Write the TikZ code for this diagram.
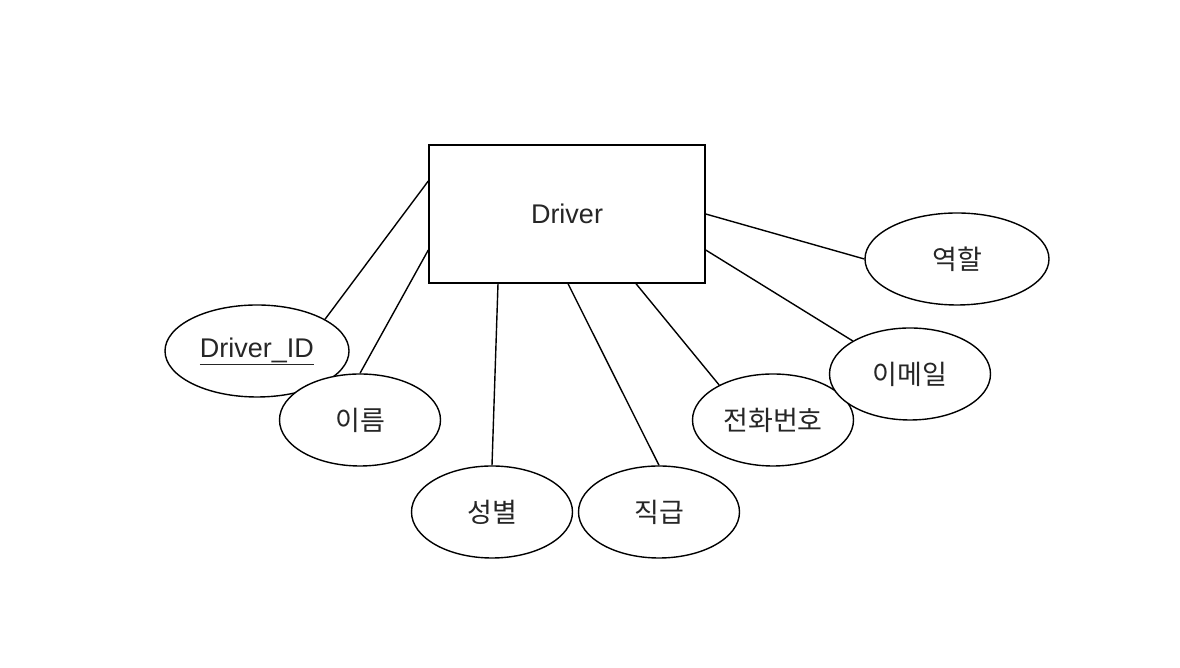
\documentclass[tikz,border=0pt]{standalone}
\usepackage{fontspec}
\setmainfont{Liberation Sans}
\newfontfamily\krfont{Noto Sans CJK KR}
\usetikzlibrary{positioning,shapes.geometric,calc}

\begin{document}
\begin{tikzpicture}[
    x=1pt, y=1pt,
    every node/.style={font=\fontsize{27}{32}\selectfont, text=black!85},
    entity/.style={draw, line width=1.4pt, fill=white, minimum width=276pt, minimum height=138pt, inner sep=0pt},
    attr/.style={draw, ellipse, line width=1.4pt, fill=white, minimum width=161pt, minimum height=92pt, inner sep=0pt},
    wideattr/.style={attr, minimum width=184pt},
    kr/.style={font=\krfont\fontsize{27}{32}\selectfont},
    conn/.style={line width=1.4pt}
]
\useasboundingbox[fill=white] (0,0) rectangle (1180,668);
\node[entity] (driver) at (567,454) {Driver};
\node[wideattr] (did) at (257,317) {\underline{Driver\_ID}};
\node[attr, kr] (name) at (360,248) {이름};
\node[attr, kr] (gender) at (492,156) {성별};
\node[attr, kr] (rank) at (659,156) {직급};
\node[attr, kr] (phone) at (773,248) {전화번호};
\node[attr, kr] (email) at (910,294) {이메일};
\node[wideattr, kr] (role) at (957,409) {역할};
\draw[conn] ([yshift=33pt]driver.west) -- (did.25);
\draw[conn] ([yshift=-36pt]driver.west) -- (name.north);
\draw[conn] ([xshift=-69pt]driver.south) -- (gender.north);
\draw[conn] ([xshift=1pt]driver.south) -- (rank.north);
\draw[conn] ([xshift=69pt]driver.south) -- (phone.147);
\draw[conn] ([yshift=-36pt]driver.east) -- (email.150);
\draw[conn] (driver.east) -- (role.west);
\end{tikzpicture}
\end{document}
